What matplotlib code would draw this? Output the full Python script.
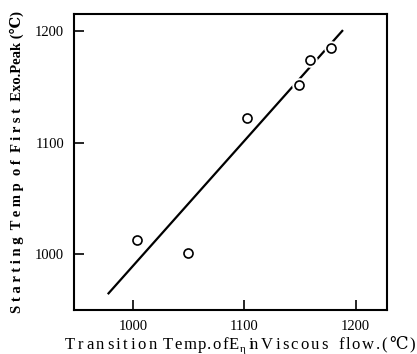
import numpy as np
import matplotlib.pyplot as plt

plt.rcParams['font.family'] = ['Liberation Serif', 'DejaVu Serif', 'DejaVu Sans']

# measured points (transition temp vs. starting temp of first exo peak)
x_pts = [1004, 1049, 1102, 1149, 1159, 1178]
y_pts = [1013, 1001, 1122, 1152, 1174, 1185]

# fitted line end points
line_x = [978, 1188]
line_y = [965, 1200]

x_ticks = [1000, 1100, 1200]
y_ticks = [1000, 1100, 1200]

# x label words with their pixel span in the old print (E gets a subscript eta)
x_words = ['Transition', 'Temp.of', 'E', 'in', 'Viscous', 'flow.(℃)']
x_spans = [(65, 157), (163, 228), (229, 238), (249, 258), (261, 328), (338, 415)]

W, H = 417, 354

fig = plt.figure(figsize=(W / 100, H / 100), dpi=100)
ax = fig.add_axes([0.1775, 0.124, 0.75, 0.836])

ax.plot(line_x, line_y, color='black', lw=1.6, zorder=2)
ax.plot(x_pts, y_pts, 'o', ms=7.5, mfc='white', mec='white', mew=3, zorder=3)
ax.plot(x_pts, y_pts, 'o', ms=6.5, mfc='white', mec='black', mew=1.2, zorder=4)

ax.set_xlim(947, 1228)
ax.set_ylim(950, 1215)
ax.set_xticks(x_ticks)
ax.set_yticks(y_ticks)
ax.tick_params(direction='in', length=7, width=1.2, labelsize=10.5, pad=7)

for s in ax.spines.values():
    s.set_linewidth(1.5)

# letter-spaced x label, char by char so each word fills its span
renderer = fig.canvas.get_renderer()
base = 349
for word, (x0, x1) in zip(x_words, x_spans):
    texts = [fig.text(0, 1 - base / H, ch, fontsize=12, ha='left', va='baseline') for ch in word]
    widths = [t.get_window_extent(renderer).width for t in texts]
    gap = (x1 - x0 - sum(widths)) / max(len(word) - 1, 1)
    x = x0
    for t, w in zip(texts, widths):
        t.set_x(x / W)
        x += w + gap
fig.text(239.5 / W, 1 - (base + 3) / H, 'η', fontsize=8, ha='left', va='baseline')

ax.set_ylabel('S t a r t i n g  T e m p  o f  F i r s t  Exo.Peak (℃)', fontsize=10.5, labelpad=8,
              fontweight='bold')

fig.savefig('out.png', dpi=100)
